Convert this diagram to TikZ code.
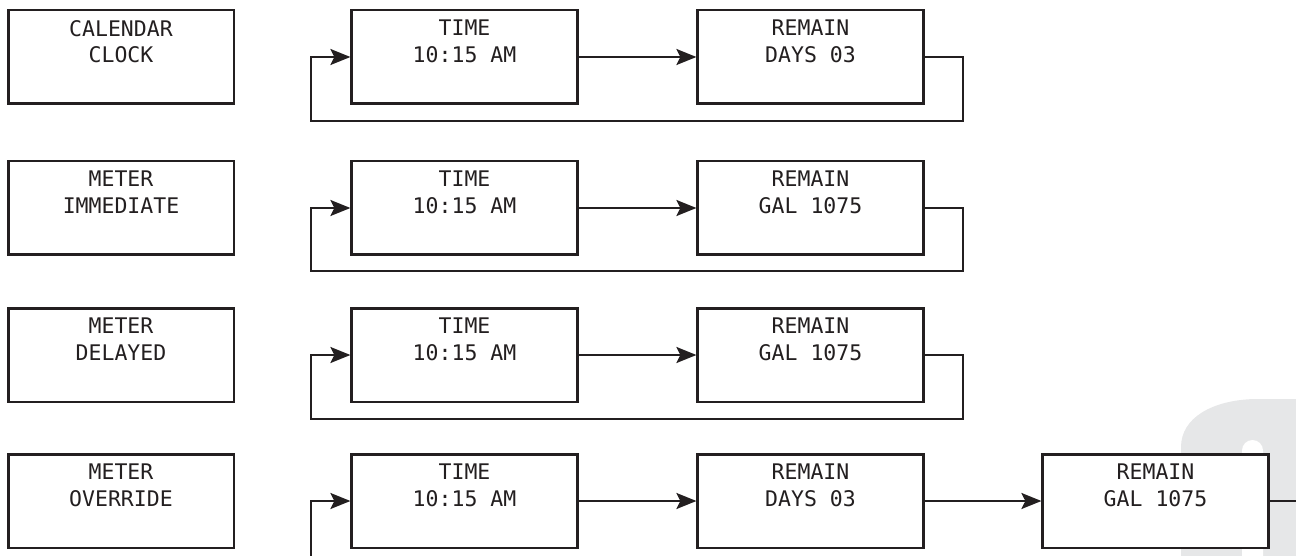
\documentclass[tikz,border=0pt]{standalone}
\usepackage{fontspec}
\newfontfamily\lcdfont{DejaVu Sans Mono}
\usetikzlibrary{arrows.meta}
\definecolor{ink}{RGB}{35,31,32}
\definecolor{wmgray}{RGB}{230,231,232}
\tikzset{
  box/.style={draw=ink, line width=2.6pt, minimum width=225.6pt, minimum height=93.6pt, inner sep=0pt, fill=white},
  txt/.style={font=\lcdfont\fontsize{21.5}{26.5}\selectfont, text=ink, align=center, inner sep=0pt, anchor=north},
  conn/.style={draw=ink, line width=2.4pt, -{Stealth[length=20pt, width=16pt, inset=4pt]}},
  plainconn/.style={draw=ink, line width=2.4pt}
}
\begin{document}
\begin{tikzpicture}[x=1pt, y=-1pt]
\useasboundingbox (0,0) rectangle (1296,556);
% watermark shape
\begin{scope}
\clip (0,0) rectangle (1296,556);
\fill[wmgray] (1181,600) -- (1181,447) .. controls (1181,418) and (1212,400) .. (1255,399) -- (1310,399) -- (1310,600) -- cycle;
\fill[white] (1242,600) -- (1242,450.5) arc(180:360:10.5) -- (1263,600) -- cycle;
\end{scope}
% row 1
\node[box] (a1) at (121,57) {};
\node[box] (b1) at (464.5,57) {};
\node[box] (c1) at (810.5,57) {};
\node[txt] (ta1) at ([yshift=-11pt]a1.north) {CALENDAR\\CLOCK};
\node[txt] (tb1) at ([yshift=-11pt]b1.north) {TIME\\10:15 AM};
\node[txt] (tc1) at ([yshift=-11pt]c1.north) {REMAIN\\DAYS 03};
% row 2
\node[box] (a2) at (121,208) {};
\node[box] (b2) at (464.5,208) {};
\node[box] (c2) at (810.5,208) {};
\node[txt] (ta2) at ([yshift=-11pt]a2.north) {METER\\IMMEDIATE};
\node[txt] (tb2) at ([yshift=-11pt]b2.north) {TIME\\10:15 AM};
\node[txt] (tc2) at ([yshift=-11pt]c2.north) {REMAIN\\GAL 1075};
% row 3
\node[box] (a3) at (121,355) {};
\node[box] (b3) at (464.5,355) {};
\node[box] (c3) at (810.5,355) {};
\node[txt] (ta3) at ([yshift=-11pt]a3.north) {METER\\DELAYED};
\node[txt] (tb3) at ([yshift=-11pt]b3.north) {TIME\\10:15 AM};
\node[txt] (tc3) at ([yshift=-11pt]c3.north) {REMAIN\\GAL 1075};
% row 4
\node[box] (a4) at (121,501) {};
\node[box] (b4) at (464.5,501) {};
\node[box] (c4) at (810.5,501) {};
\node[box] (d4) at (1155.5,501) {};
\node[txt] (ta4) at ([yshift=-11pt]a4.north) {METER\\OVERRIDE};
\node[txt] (tb4) at ([yshift=-11pt]b4.north) {TIME\\10:15 AM};
\node[txt] (tc4) at ([yshift=-11pt]c4.north) {REMAIN\\DAYS 03};
\node[txt] (td4) at ([yshift=-11pt]d4.north) {REMAIN\\GAL 1075};
% loop coordinates
\coordinate (r1) at (963,121);
\coordinate (l1) at (311,121);
\coordinate (r2) at (963,271);
\coordinate (l2) at (311,271);
\coordinate (r3) at (963,419);
\coordinate (l3) at (311,419);
\coordinate (l4) at (311,556);
\coordinate (e4) at (1296,501);
% connectors
\draw[conn] (b1.east) -- (c1.west);
\draw[conn] (c1.east) -| (r1) -- (l1) |- (b1.west);
\draw[conn] (b2.east) -- (c2.west);
\draw[conn] (c2.east) -| (r2) -- (l2) |- (b2.west);
\draw[conn] (b3.east) -- (c3.west);
\draw[conn] (c3.east) -| (r3) -- (l3) |- (b3.west);
\draw[conn] (b4.east) -- (c4.west);
\draw[conn] (c4.east) -- (d4.west);
\draw[conn] (l4) |- (b4.west);
\draw[plainconn] (d4.east) -- (e4);
\end{tikzpicture}
\end{document}
